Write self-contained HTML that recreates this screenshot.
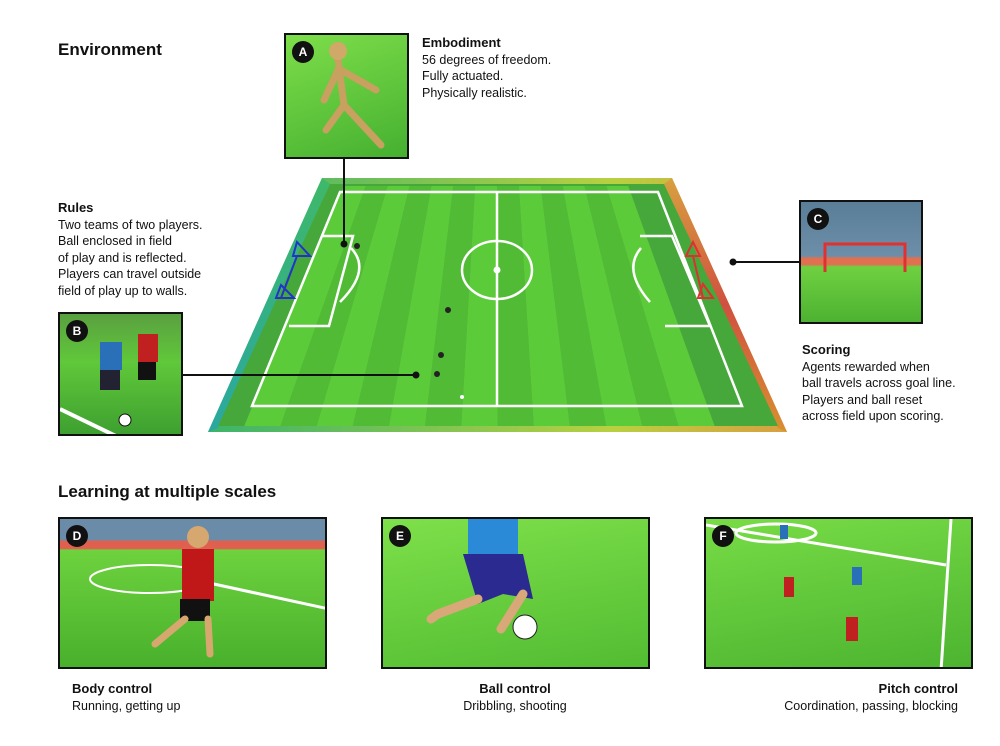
<!DOCTYPE html>
<html><head><meta charset="utf-8"><style>
body{margin:0;background:#fff;width:1000px;height:746px;overflow:hidden;font-family:"Liberation Sans",sans-serif;color:#111}
.t{position:absolute;font-size:12.5px;line-height:16.5px}
.t b{font-size:13px}
h2{position:absolute;margin:0;font-size:17px;font-weight:bold}
.box{position:absolute;border:2px solid #111;box-sizing:border-box;overflow:hidden}
.badge{position:absolute;width:22px;height:22px;border-radius:50%;background:#111;color:#fff;font-weight:bold;font-size:12px;text-align:center;line-height:22px;left:6px;top:6px}
</style></head><body>
<h2 style="left:58px;top:40px">Environment</h2>
<h2 style="left:58px;top:482px">Learning at multiple scales</h2>

<svg width="1000" height="746" style="position:absolute;left:0;top:0">
<defs>
<linearGradient id="wl" x1="0" y1="0" x2="0" y2="1"><stop offset="0" stop-color="#3fb86a"/><stop offset="1" stop-color="#2aa8a0"/></linearGradient>
<linearGradient id="wr" x1="0" y1="0" x2="0" y2="1"><stop offset="0" stop-color="#d8a040"/><stop offset="0.5" stop-color="#d05040"/><stop offset="1" stop-color="#d89030"/></linearGradient>
<linearGradient id="wt" x1="0" y1="0" x2="1" y2="0"><stop offset="0" stop-color="#3cb46a"/><stop offset="0.7" stop-color="#b8d040"/><stop offset="1" stop-color="#d8a040"/></linearGradient>
</defs>
<polygon points="322,178 672,178 787,432 208,432" fill="url(#wt)"/>
<polygon points="322,178 330,184 218,428 208,432" fill="url(#wl)"/>
<polygon points="672,178 664,184 778,428 787,432" fill="url(#wr)"/>
<polygon points="330,184 664,184 778,426 218,426" fill="#46a83a"/>
<g fill="#5ccb3a">
<polygon points="343.9,186 365.75,186 280.4,426 244.2,426"/>
<polygon points="387.6,186 409.5,186 352.8,426 316.6,426"/>
<polygon points="431.4,186 453.25,186 425.1,426 388.9,426"/>
<polygon points="475.1,186 497,186 497.5,426 461.3,426"/>
<polygon points="518.9,186 540.75,186 569.9,426 533.7,426"/>
<polygon points="562.6,186 584.5,186 642.3,426 606.1,426"/>
<polygon points="606.4,186 628.25,186 714.6,426 678.5,426"/>
</g>
<g fill="#52bb36">
<polygon points="365.75,186 387.6,186 316.6,426 280.4,426"/>
<polygon points="409.5,186 431.4,186 388.9,426 352.8,426"/>
<polygon points="453.25,186 475.1,186 461.3,426 425.1,426"/>
<polygon points="497,186 518.9,186 533.7,426 497.5,426"/>
<polygon points="540.75,186 562.6,186 606.1,426 569.9,426"/>
<polygon points="584.5,186 606.4,186 678.5,426 642.3,426"/>
</g>
<g stroke="#fff" stroke-width="2.5" fill="none">
<polygon points="340,192 658,192 742,406 252,406"/>
<line x1="497" y1="192" x2="497" y2="406"/>
<ellipse cx="497" cy="270" rx="35" ry="29"/>
<polyline points="322,236 353,236 329,326 289,326"/>
<polyline points="640,236 672,236 710,326 665,326"/>
<path d="M351,248 Q372,270 340,302"/>
<path d="M641,248 Q622,270 650,302"/>
</g>
<circle cx="497" cy="270" r="3.5" fill="#fff"/>
<g stroke="#2233cc" stroke-width="2" fill="none"><polygon points="297,242 310,256 293,256"/><polygon points="281,285 294,298 276,298"/><line x1="297" y1="256" x2="281" y2="298"/></g>
<g stroke="#dd3030" stroke-width="2" fill="none"><polygon points="693,242 686,256 700,256"/><polygon points="703,284 698,298 713,298"/><line x1="693" y1="256" x2="703" y2="298"/></g>
<g fill="#222"><circle cx="357" cy="246" r="3"/><circle cx="448" cy="310" r="3"/><circle cx="441" cy="355" r="3"/><circle cx="437" cy="374" r="3"/></g>
<circle cx="462" cy="397" r="2" fill="#fff"/>
<!-- connectors -->
<g stroke="#111" stroke-width="2"><line x1="344" y1="158" x2="344" y2="243"/><line x1="182" y1="375" x2="416" y2="375"/><line x1="733" y1="262" x2="799" y2="262"/></g>
<g fill="#111"><circle cx="344" cy="244" r="3.5"/><circle cx="416" cy="375" r="3.5"/><circle cx="733" cy="262" r="3.5"/></g>
</svg>

<div class="box" style="left:284px;top:33px;width:125px;height:126px;background:linear-gradient(160deg,#7ede4a,#45b030)">
<svg width="125" height="126" style="position:absolute;left:0;top:0"><g stroke="#c8a060" stroke-width="7" stroke-linecap="round" fill="none"><line x1="52" y1="25" x2="58" y2="70"/><line x1="52" y1="35" x2="38" y2="65"/><line x1="55" y1="35" x2="90" y2="55"/><line x1="58" y1="70" x2="40" y2="95"/><line x1="58" y1="70" x2="95" y2="110"/></g><circle cx="52" cy="16" r="9" fill="#d0a868"/></svg>
<div class="badge">A</div></div>
<div class="t" style="left:422px;top:35px"><b>Embodiment</b><br>56 degrees of freedom.<br>Fully actuated.<br>Physically realistic.</div>

<div class="t" style="left:58px;top:200px"><b>Rules</b><br>Two teams of two players.<br>Ball enclosed in field<br>of play and is reflected.<br>Players can travel outside<br>field of play up to walls.</div>
<div class="box" style="left:58px;top:312px;width:125px;height:124px;background:linear-gradient(180deg,#5aa040,#60c83a 40%,#3ea030)">
<svg width="125" height="124" style="position:absolute"><line x1="0" y1="95" x2="60" y2="124" stroke="#fff" stroke-width="4"/><rect x="40" y="28" width="22" height="28" fill="#2a70b8"/><rect x="78" y="20" width="20" height="28" fill="#c02020"/><rect x="40" y="56" width="20" height="20" fill="#223"/><rect x="78" y="48" width="18" height="18" fill="#111"/><circle cx="65" cy="106" r="6" fill="#fff" stroke="#111"/></svg>
<div class="badge">B</div></div>

<div class="box" style="left:799px;top:200px;width:124px;height:124px;background:linear-gradient(180deg,#5a7e98 0%,#6d8ea8 45%,#e07050 47%,#e07050 52%,#6fd040 54%,#4eb232 100%)">
<svg width="124" height="124" style="position:absolute"><g stroke="#e03030" stroke-width="3" fill="none"><polyline points="24,70 24,42 104,42 104,70"/></g></svg>
<div class="badge">C</div></div>
<div class="t" style="left:802px;top:342px"><b>Scoring</b><br>Agents rewarded when<br>ball travels across goal line.<br>Players and ball reset<br>across field upon scoring.</div>

<div class="box" style="left:58px;top:517px;width:269px;height:152px;background:linear-gradient(180deg,#6a8ca8 0%,#6a8ca8 14%,#e06050 15%,#e06050 20%,#6ed23e 21%,#48b02c 100%)">
<svg width="269" height="152" style="position:absolute"><ellipse cx="90" cy="60" rx="60" ry="14" stroke="#fff" stroke-width="2" fill="none"/><line x1="140" y1="62" x2="269" y2="90" stroke="#fff" stroke-width="3"/><rect x="122" y="30" width="32" height="52" fill="#c01818"/><rect x="120" y="80" width="30" height="22" fill="#111"/><circle cx="138" cy="18" r="11" fill="#d6a870"/><g stroke="#d6a870" stroke-width="7" stroke-linecap="round"><line x1="125" y1="100" x2="95" y2="125"/><line x1="148" y1="100" x2="150" y2="135"/></g></svg>
<div class="badge">D</div></div>
<div class="box" style="left:381px;top:517px;width:269px;height:152px;background:linear-gradient(170deg,#7ee04a,#52bc32)">
<svg width="269" height="152" style="position:absolute"><rect x="85" y="0" width="50" height="40" fill="#2a8ad8"/><polygon points="80,35 140,35 150,80 120,75 95,85" fill="#2a2a90"/><g stroke="#d8a878" stroke-width="9" stroke-linecap="round"><line x1="95" y1="80" x2="55" y2="95"/><line x1="140" y1="75" x2="118" y2="110"/><line x1="55" y1="95" x2="48" y2="100"/></g><circle cx="142" cy="108" r="12" fill="#fff" stroke="#222"/></svg>
<div class="badge">E</div></div>
<div class="box" style="left:704px;top:517px;width:269px;height:152px;background:linear-gradient(170deg,#78dc46,#4cb430)">
<svg width="269" height="152" style="position:absolute"><g stroke="#fff" stroke-width="3" fill="none"><line x1="0" y1="6" x2="240" y2="46"/><line x1="245" y1="0" x2="235" y2="152"/><ellipse cx="70" cy="14" rx="40" ry="9"/></g><rect x="78" y="58" width="10" height="20" fill="#c02020"/><rect x="146" y="48" width="10" height="18" fill="#2a70b8"/><rect x="140" y="98" width="12" height="24" fill="#c02020"/><rect x="74" y="6" width="8" height="14" fill="#2a70b8"/></svg>
<div class="badge">F</div></div>

<div class="t" style="left:72px;top:681px"><b>Body control</b><br>Running, getting up</div>
<div class="t" style="left:415px;top:681px;width:200px;text-align:center"><b>Ball control</b><br>Dribbling, shooting</div>
<div class="t" style="left:700px;top:681px;width:258px;text-align:right"><b>Pitch control</b><br>Coordination, passing, blocking</div>
</body></html>
